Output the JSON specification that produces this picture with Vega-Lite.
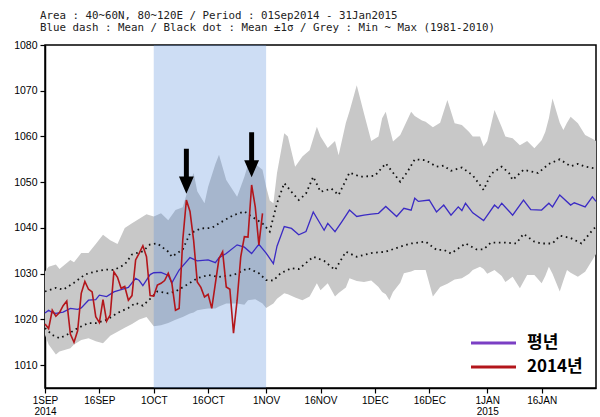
{
  "$schema": "https://vega.github.io/schema/vega-lite/v6.json",
  "width": 551,
  "height": 343,
  "autosize": "none",
  "padding": {"left": 45, "top": 45, "right": 4, "bottom": 29},
  "background": "white",
  "title": {
    "text": ["Area : 40~60N, 80~120E / Period : 01Sep2014 - 31Jan2015", "Blue dash : Mean / Black dot : Mean ±1σ / Grey : Min ~ Max (1981-2010)"],
    "anchor": "start",
    "frame": "group",
    "font": "DejaVu Sans Mono",
    "fontSize": 10.8,
    "fontWeight": "normal",
    "color": "#222222",
    "lineHeight": 12,
    "offset": 7,
    "dx": -5
  },
  "config": {
    "view": {"stroke": "black", "strokeWidth": 1.5},
    "axis": {"grid": false, "domainColor": "black", "domainWidth": 1.5, "tickColor": "black", "tickWidth": 1.2, "tickSize": 5, "labelColor": "black", "labelFont": "Liberation Sans", "labelFontSize": 10.5, "title": null}
  },
  "datasets": {
    "band": [
      {"date": "2014-09-01", "max": 1030.5, "min": 1016.6},
      {"date": "2014-09-02", "max": 1031.5, "min": 1014.5},
      {"date": "2014-09-04", "max": 1032, "min": 1012.3},
      {"date": "2014-09-05", "max": 1031, "min": 1013},
      {"date": "2014-09-08", "max": 1033, "min": 1013.7},
      {"date": "2014-09-09", "max": 1032.5, "min": 1014.5},
      {"date": "2014-09-11", "max": 1034.5, "min": 1015.5},
      {"date": "2014-09-13", "max": 1034.5, "min": 1015.9},
      {"date": "2014-09-15", "max": 1036.5, "min": 1015.2},
      {"date": "2014-09-17", "max": 1038.5, "min": 1014.8},
      {"date": "2014-09-19", "max": 1037.3, "min": 1016.4},
      {"date": "2014-09-21", "max": 1036.5, "min": 1017.3},
      {"date": "2014-09-23", "max": 1040, "min": 1018.2},
      {"date": "2014-09-25", "max": 1041, "min": 1019},
      {"date": "2014-09-27", "max": 1042, "min": 1020},
      {"date": "2014-09-29", "max": 1043, "min": 1020.5},
      {"date": "2014-10-01", "max": 1042.5, "min": 1018.5},
      {"date": "2014-10-03", "max": 1043.2, "min": 1018.7},
      {"date": "2014-10-05", "max": 1041.7, "min": 1019.2},
      {"date": "2014-10-07", "max": 1043.9, "min": 1019.9},
      {"date": "2014-10-09", "max": 1044.5, "min": 1020.5},
      {"date": "2014-10-11", "max": 1050, "min": 1021.3},
      {"date": "2014-10-12", "max": 1052, "min": 1021.5},
      {"date": "2014-10-13", "max": 1048, "min": 1022},
      {"date": "2014-10-15", "max": 1045.4, "min": 1022.3},
      {"date": "2014-10-16", "max": 1049, "min": 1022.4},
      {"date": "2014-10-18", "max": 1054, "min": 1022.4},
      {"date": "2014-10-19", "max": 1056, "min": 1022.8},
      {"date": "2014-10-21", "max": 1050.5, "min": 1023.5},
      {"date": "2014-10-24", "max": 1046.8, "min": 1023.5},
      {"date": "2014-10-26", "max": 1051.2, "min": 1023.2},
      {"date": "2014-10-27", "max": 1053.8, "min": 1024.2},
      {"date": "2014-10-29", "max": 1054, "min": 1024.4},
      {"date": "2014-10-31", "max": 1052.7, "min": 1023.5},
      {"date": "2014-11-01", "max": 1049, "min": 1022.5},
      {"date": "2014-11-02", "max": 1046, "min": 1023},
      {"date": "2014-11-03", "max": 1045.4, "min": 1023.5},
      {"date": "2014-11-04", "max": 1052, "min": 1024.5},
      {"date": "2014-11-06", "max": 1060.7, "min": 1025.7},
      {"date": "2014-11-07", "max": 1060, "min": 1025.5},
      {"date": "2014-11-09", "max": 1053.4, "min": 1024.8},
      {"date": "2014-11-11", "max": 1055.6, "min": 1024.2},
      {"date": "2014-11-13", "max": 1057, "min": 1025},
      {"date": "2014-11-15", "max": 1062.1, "min": 1027.9},
      {"date": "2014-11-16", "max": 1060, "min": 1026.4},
      {"date": "2014-11-18", "max": 1057.5, "min": 1027.9},
      {"date": "2014-11-20", "max": 1059, "min": 1025},
      {"date": "2014-11-21", "max": 1055.9, "min": 1025.8},
      {"date": "2014-11-23", "max": 1063, "min": 1027},
      {"date": "2014-11-24", "max": 1065.5, "min": 1029},
      {"date": "2014-11-26", "max": 1071.2, "min": 1028.4},
      {"date": "2014-11-28", "max": 1065, "min": 1028.2},
      {"date": "2014-11-30", "max": 1059, "min": 1028.5},
      {"date": "2014-12-02", "max": 1060, "min": 1027.1},
      {"date": "2014-12-03", "max": 1064, "min": 1026},
      {"date": "2014-12-04", "max": 1065.4, "min": 1025.5},
      {"date": "2014-12-05", "max": 1062, "min": 1024.2},
      {"date": "2014-12-06", "max": 1058.9, "min": 1026},
      {"date": "2014-12-08", "max": 1060.3, "min": 1028},
      {"date": "2014-12-09", "max": 1062, "min": 1030.1},
      {"date": "2014-12-11", "max": 1065.4, "min": 1030.5},
      {"date": "2014-12-12", "max": 1064.5, "min": 1030.8},
      {"date": "2014-12-14", "max": 1063.5, "min": 1030.8},
      {"date": "2014-12-15", "max": 1063.2, "min": 1030.8},
      {"date": "2014-12-17", "max": 1062, "min": 1025},
      {"date": "2014-12-19", "max": 1063, "min": 1027.1},
      {"date": "2014-12-21", "max": 1068, "min": 1027.8},
      {"date": "2014-12-23", "max": 1062.9, "min": 1028.7},
      {"date": "2014-12-25", "max": 1062.5, "min": 1029},
      {"date": "2014-12-27", "max": 1061, "min": 1030},
      {"date": "2014-12-28", "max": 1060, "min": 1030.8},
      {"date": "2014-12-30", "max": 1060, "min": 1031.5},
      {"date": "2014-12-31", "max": 1057.8, "min": 1031},
      {"date": "2015-01-01", "max": 1059, "min": 1030},
      {"date": "2015-01-03", "max": 1065.8, "min": 1030.8},
      {"date": "2015-01-05", "max": 1062, "min": 1029.5},
      {"date": "2015-01-06", "max": 1060, "min": 1028.2},
      {"date": "2015-01-08", "max": 1059.6, "min": 1029.3},
      {"date": "2015-01-10", "max": 1058.1, "min": 1026.8},
      {"date": "2015-01-12", "max": 1059, "min": 1029.7},
      {"date": "2015-01-14", "max": 1057.4, "min": 1029.7},
      {"date": "2015-01-16", "max": 1059.2, "min": 1027.9},
      {"date": "2015-01-17", "max": 1061, "min": 1029.5},
      {"date": "2015-01-18", "max": 1064, "min": 1031.5},
      {"date": "2015-01-19", "max": 1068.3, "min": 1030},
      {"date": "2015-01-21", "max": 1063, "min": 1026.1},
      {"date": "2015-01-22", "max": 1061.4, "min": 1028.5},
      {"date": "2015-01-23", "max": 1063, "min": 1030.8},
      {"date": "2015-01-24", "max": 1064.3, "min": 1030.2},
      {"date": "2015-01-26", "max": 1062.9, "min": 1029.3},
      {"date": "2015-01-28", "max": 1060.3, "min": 1030.4},
      {"date": "2015-01-30", "max": 1059.5, "min": 1033},
      {"date": "2015-01-31", "max": 1059, "min": 1034.3}
    ],
    "mean": [
      {"date": "2014-09-01", "value": 1021.4}, {"date": "2014-09-02", "value": 1022}, {"date": "2014-09-03", "value": 1021.5},
      {"date": "2014-09-04", "value": 1021.3}, {"date": "2014-09-06", "value": 1021.6}, {"date": "2014-09-08", "value": 1022.4},
      {"date": "2014-09-10", "value": 1022.2}, {"date": "2014-09-11", "value": 1022.5}, {"date": "2014-09-13", "value": 1024.2},
      {"date": "2014-09-15", "value": 1024.3}, {"date": "2014-09-16", "value": 1025.3}, {"date": "2014-09-18", "value": 1025},
      {"date": "2014-09-20", "value": 1026}, {"date": "2014-09-22", "value": 1026.5}, {"date": "2014-09-24", "value": 1027},
      {"date": "2014-09-26", "value": 1029}, {"date": "2014-09-27", "value": 1028.5}, {"date": "2014-09-28", "value": 1027.4},
      {"date": "2014-09-30", "value": 1029.8}, {"date": "2014-10-01", "value": 1030.2}, {"date": "2014-10-03", "value": 1030.3},
      {"date": "2014-10-05", "value": 1029.6}, {"date": "2014-10-06", "value": 1028}, {"date": "2014-10-08", "value": 1030.8},
      {"date": "2014-10-11", "value": 1033.5}, {"date": "2014-10-13", "value": 1032.8}, {"date": "2014-10-16", "value": 1033},
      {"date": "2014-10-18", "value": 1032.4}, {"date": "2014-10-19", "value": 1033.5}, {"date": "2014-10-21", "value": 1034.4},
      {"date": "2014-10-24", "value": 1036.3}, {"date": "2014-10-26", "value": 1035.8}, {"date": "2014-10-28", "value": 1034.4},
      {"date": "2014-10-30", "value": 1036.4}, {"date": "2014-11-01", "value": 1034.5}, {"date": "2014-11-03", "value": 1032.2},
      {"date": "2014-11-04", "value": 1036}, {"date": "2014-11-06", "value": 1040.3}, {"date": "2014-11-08", "value": 1039.9},
      {"date": "2014-11-10", "value": 1038.5}, {"date": "2014-11-12", "value": 1039.2}, {"date": "2014-11-14", "value": 1043.5},
      {"date": "2014-11-17", "value": 1039.5}, {"date": "2014-11-18", "value": 1041}, {"date": "2014-11-20", "value": 1039.2},
      {"date": "2014-11-22", "value": 1041.5}, {"date": "2014-11-24", "value": 1043.9}, {"date": "2014-11-26", "value": 1042.5},
      {"date": "2014-11-28", "value": 1042.8}, {"date": "2014-11-30", "value": 1043}, {"date": "2014-12-02", "value": 1043.2},
      {"date": "2014-12-04", "value": 1044.7}, {"date": "2014-12-07", "value": 1042.5}, {"date": "2014-12-09", "value": 1044.3},
      {"date": "2014-12-11", "value": 1043.9}, {"date": "2014-12-12", "value": 1046.5}, {"date": "2014-12-13", "value": 1045.8},
      {"date": "2014-12-16", "value": 1046.1}, {"date": "2014-12-18", "value": 1043.5}, {"date": "2014-12-20", "value": 1045},
      {"date": "2014-12-22", "value": 1042.8}, {"date": "2014-12-24", "value": 1044.6}, {"date": "2014-12-25", "value": 1043.8},
      {"date": "2014-12-26", "value": 1045.4}, {"date": "2014-12-28", "value": 1043.3}, {"date": "2014-12-31", "value": 1041.6},
      {"date": "2015-01-03", "value": 1045}, {"date": "2015-01-04", "value": 1044.3}, {"date": "2015-01-05", "value": 1045.4},
      {"date": "2015-01-08", "value": 1042.8}, {"date": "2015-01-11", "value": 1046.1}, {"date": "2015-01-13", "value": 1044},
      {"date": "2015-01-16", "value": 1043.9}, {"date": "2015-01-18", "value": 1045.4}, {"date": "2015-01-19", "value": 1044.6},
      {"date": "2015-01-21", "value": 1047.2}, {"date": "2015-01-24", "value": 1045}, {"date": "2015-01-25", "value": 1045.5},
      {"date": "2015-01-26", "value": 1045.2}, {"date": "2015-01-28", "value": 1044.6}, {"date": "2015-01-30", "value": 1046.8},
      {"date": "2015-01-31", "value": 1045.8}
    ],
    "up": [
      {"date": "2014-09-01", "value": 1026.1}, {"date": "2014-09-04", "value": 1026.9}, {"date": "2014-09-06", "value": 1026.5},
      {"date": "2014-09-09", "value": 1028}, {"date": "2014-09-12", "value": 1029.8}, {"date": "2014-09-15", "value": 1030.5},
      {"date": "2014-09-18", "value": 1030.9}, {"date": "2014-09-20", "value": 1030.8}, {"date": "2014-09-23", "value": 1032},
      {"date": "2014-09-25", "value": 1034.2}, {"date": "2014-09-28", "value": 1034.9}, {"date": "2014-09-30", "value": 1036.4},
      {"date": "2014-10-02", "value": 1036.6}, {"date": "2014-10-05", "value": 1034.8}, {"date": "2014-10-06", "value": 1033.7},
      {"date": "2014-10-09", "value": 1035.3}, {"date": "2014-10-11", "value": 1038.8}, {"date": "2014-10-14", "value": 1039.9},
      {"date": "2014-10-17", "value": 1040}, {"date": "2014-10-19", "value": 1041}, {"date": "2014-10-23", "value": 1042.8},
      {"date": "2014-10-26", "value": 1043.6}, {"date": "2014-10-28", "value": 1042.5}, {"date": "2014-10-31", "value": 1041},
      {"date": "2014-11-02", "value": 1039.2}, {"date": "2014-11-04", "value": 1045.4}, {"date": "2014-11-06", "value": 1049.8},
      {"date": "2014-11-08", "value": 1047.9}, {"date": "2014-11-10", "value": 1046.1}, {"date": "2014-11-12", "value": 1047.5},
      {"date": "2014-11-14", "value": 1051.2}, {"date": "2014-11-16", "value": 1047.9}, {"date": "2014-11-19", "value": 1048.6},
      {"date": "2014-11-21", "value": 1047.2}, {"date": "2014-11-24", "value": 1052.1}, {"date": "2014-11-27", "value": 1051.2},
      {"date": "2014-12-01", "value": 1051.4}, {"date": "2014-12-04", "value": 1054.1}, {"date": "2014-12-08", "value": 1050.1},
      {"date": "2014-12-10", "value": 1052.3}, {"date": "2014-12-12", "value": 1055}, {"date": "2014-12-15", "value": 1054.8},
      {"date": "2014-12-18", "value": 1053.4}, {"date": "2014-12-20", "value": 1053.6}, {"date": "2014-12-22", "value": 1052.5},
      {"date": "2014-12-25", "value": 1053.2}, {"date": "2014-12-28", "value": 1051.5}, {"date": "2014-12-31", "value": 1048.3},
      {"date": "2015-01-02", "value": 1051.8}, {"date": "2015-01-05", "value": 1053.4}, {"date": "2015-01-07", "value": 1052},
      {"date": "2015-01-08", "value": 1050.5}, {"date": "2015-01-11", "value": 1052.7}, {"date": "2015-01-14", "value": 1052.2},
      {"date": "2015-01-15", "value": 1052}, {"date": "2015-01-18", "value": 1054}, {"date": "2015-01-21", "value": 1055},
      {"date": "2015-01-24", "value": 1053.5}, {"date": "2015-01-26", "value": 1054}, {"date": "2015-01-28", "value": 1053.4},
      {"date": "2015-01-31", "value": 1053}
    ],
    "lo": [
      {"date": "2014-09-01", "value": 1018.1}, {"date": "2014-09-03", "value": 1016.6}, {"date": "2014-09-05", "value": 1015.9},
      {"date": "2014-09-07", "value": 1016.6}, {"date": "2014-09-10", "value": 1018.1}, {"date": "2014-09-13", "value": 1019.2},
      {"date": "2014-09-15", "value": 1019.2}, {"date": "2014-09-18", "value": 1019.9}, {"date": "2014-09-21", "value": 1021.4},
      {"date": "2014-09-24", "value": 1022.5}, {"date": "2014-09-26", "value": 1023.6}, {"date": "2014-09-28", "value": 1023},
      {"date": "2014-09-30", "value": 1024.5}, {"date": "2014-10-02", "value": 1026.1}, {"date": "2014-10-05", "value": 1025.7},
      {"date": "2014-10-07", "value": 1026.1}, {"date": "2014-10-10", "value": 1027.5}, {"date": "2014-10-13", "value": 1029},
      {"date": "2014-10-16", "value": 1029.7}, {"date": "2014-10-19", "value": 1029.3}, {"date": "2014-10-23", "value": 1029.7},
      {"date": "2014-10-27", "value": 1031.2}, {"date": "2014-10-30", "value": 1030.1}, {"date": "2014-11-01", "value": 1028.6},
      {"date": "2014-11-03", "value": 1028.5}, {"date": "2014-11-05", "value": 1030.1}, {"date": "2014-11-08", "value": 1031.2},
      {"date": "2014-11-10", "value": 1031}, {"date": "2014-11-14", "value": 1033.7}, {"date": "2014-11-17", "value": 1032.8},
      {"date": "2014-11-20", "value": 1030.8}, {"date": "2014-11-23", "value": 1034.8}, {"date": "2014-11-26", "value": 1033.7},
      {"date": "2014-11-30", "value": 1034.5}, {"date": "2014-12-04", "value": 1034.8}, {"date": "2014-12-08", "value": 1035.9},
      {"date": "2014-12-11", "value": 1036.6}, {"date": "2014-12-15", "value": 1037}, {"date": "2014-12-18", "value": 1035.2},
      {"date": "2014-12-20", "value": 1035.2}, {"date": "2014-12-22", "value": 1034.4}, {"date": "2014-12-26", "value": 1036.6},
      {"date": "2014-12-29", "value": 1035.3}, {"date": "2014-12-31", "value": 1035.3}, {"date": "2015-01-02", "value": 1036.8},
      {"date": "2015-01-06", "value": 1036.8}, {"date": "2015-01-09", "value": 1036.6}, {"date": "2015-01-11", "value": 1038.7},
      {"date": "2015-01-14", "value": 1037}, {"date": "2015-01-16", "value": 1036.6}, {"date": "2015-01-19", "value": 1036.6},
      {"date": "2015-01-21", "value": 1038.3}, {"date": "2015-01-24", "value": 1037.8}, {"date": "2015-01-27", "value": 1036.6},
      {"date": "2015-01-30", "value": 1039.5}, {"date": "2015-01-31", "value": 1040.3}
    ],
    "obs": [
      {"date": "2014-09-01", "value": 1019}, {"date": "2014-09-02", "value": 1018}, {"date": "2014-09-03", "value": 1022},
      {"date": "2014-09-04", "value": 1020.7}, {"date": "2014-09-05", "value": 1021.5}, {"date": "2014-09-06", "value": 1023},
      {"date": "2014-09-07", "value": 1024}, {"date": "2014-09-08", "value": 1016.8}, {"date": "2014-09-09", "value": 1015},
      {"date": "2014-09-10", "value": 1017.5}, {"date": "2014-09-11", "value": 1025.7}, {"date": "2014-09-12", "value": 1028.3},
      {"date": "2014-09-13", "value": 1026.6}, {"date": "2014-09-14", "value": 1026}, {"date": "2014-09-15", "value": 1020.6},
      {"date": "2014-09-16", "value": 1019.3}, {"date": "2014-09-17", "value": 1024.3}, {"date": "2014-09-18", "value": 1019.6},
      {"date": "2014-09-19", "value": 1021}, {"date": "2014-09-20", "value": 1030.4}, {"date": "2014-09-21", "value": 1029.2},
      {"date": "2014-09-22", "value": 1026.8}, {"date": "2014-09-23", "value": 1027.2}, {"date": "2014-09-24", "value": 1024.2},
      {"date": "2014-09-25", "value": 1025.2}, {"date": "2014-09-26", "value": 1033}, {"date": "2014-09-27", "value": 1034.5},
      {"date": "2014-09-28", "value": 1036.1}, {"date": "2014-09-29", "value": 1033.7}, {"date": "2014-09-30", "value": 1025.2},
      {"date": "2014-10-01", "value": 1025.1}, {"date": "2014-10-02", "value": 1027.5}, {"date": "2014-10-03", "value": 1027.9},
      {"date": "2014-10-04", "value": 1028.5}, {"date": "2014-10-05", "value": 1030.1}, {"date": "2014-10-06", "value": 1027.9},
      {"date": "2014-10-07", "value": 1022}, {"date": "2014-10-08", "value": 1022.4}, {"date": "2014-10-09", "value": 1037.3},
      {"date": "2014-10-10", "value": 1046.1}, {"date": "2014-10-11", "value": 1043.6}, {"date": "2014-10-12", "value": 1037.3},
      {"date": "2014-10-13", "value": 1028.2}, {"date": "2014-10-14", "value": 1027}, {"date": "2014-10-15", "value": 1024.9},
      {"date": "2014-10-16", "value": 1025.5}, {"date": "2014-10-17", "value": 1022.4}, {"date": "2014-10-18", "value": 1027.9},
      {"date": "2014-10-19", "value": 1033.3}, {"date": "2014-10-20", "value": 1034.8}, {"date": "2014-10-21", "value": 1027.1},
      {"date": "2014-10-22", "value": 1026.6}, {"date": "2014-10-23", "value": 1017}, {"date": "2014-10-24", "value": 1024.2},
      {"date": "2014-10-25", "value": 1033.7}, {"date": "2014-10-26", "value": 1038.1}, {"date": "2014-10-27", "value": 1038},
      {"date": "2014-10-28", "value": 1049.4}, {"date": "2014-10-29", "value": 1044.6}, {"date": "2014-10-30", "value": 1036.3},
      {"date": "2014-10-31", "value": 1043.2}
    ],
    "arrows": [
      {"date": "2014-10-10", "value": 1052.4},
      {"date": "2014-10-28", "value": 1056.0}
    ],
    "period": [
      {"start": "2014-10-01", "end": "2014-11-01"}
    ]
  },
  "encoding": {
    "x": {
      "field": "date",
      "type": "temporal",
      "scale": {"type": "utc", "domain": [{"year": 2014, "month": 9, "date": 1, "utc": true}, {"year": 2015, "month": 1, "date": 31, "utc": true}]},
      "axis": {
        "values": [
          {"year": 2014, "month": 9, "date": 1, "utc": true},
          {"year": 2014, "month": 9, "date": 16, "utc": true},
          {"year": 2014, "month": 10, "date": 1, "utc": true},
          {"year": 2014, "month": 10, "date": 16, "utc": true},
          {"year": 2014, "month": 11, "date": 1, "utc": true},
          {"year": 2014, "month": 11, "date": 16, "utc": true},
          {"year": 2014, "month": 12, "date": 1, "utc": true},
          {"year": 2014, "month": 12, "date": 16, "utc": true},
          {"year": 2015, "month": 1, "date": 1, "utc": true},
          {"year": 2015, "month": 1, "date": 16, "utc": true}
        ],
        "labelExpr": "[utcFormat(datum.value, '%-d') + upper(utcFormat(datum.value, '%b')), utcFormat(datum.value, '%m%d') == '0901' ? '2014' : (utcFormat(datum.value, '%m%d') == '0101' ? '2015' : '')]",
        "labelLineHeight": 11,
        "labelPadding": 2,
        "labelFontSize": 10,
        "labelOverlap": false,
        "labelFlush": false
      }
    }
  },
  "layer": [
    {
      "data": {"name": "band"},
      "mark": {"type": "area", "color": "#c8c8c8", "opacity": 1},
      "encoding": {
        "y": {
          "field": "max",
          "type": "quantitative",
          "scale": {"domain": [1005, 1080], "nice": false, "zero": false},
          "axis": {"values": [1010, 1020, 1030, 1040, 1050, 1060, 1070, 1080], "format": "d", "labelPadding": 3}
        },
        "y2": {"field": "min"}
      }
    },
    {
      "data": {"name": "period"},
      "mark": {"type": "rect", "fill": "#5b8fd9", "opacity": 0.3},
      "encoding": {
        "x": {"field": "start", "type": "temporal"},
        "x2": {"field": "end"}
      }
    },
    {
      "data": {"name": "up"},
      "mark": {"type": "line", "color": "#111111", "strokeWidth": 1.8, "strokeDash": [1.6, 3.6]},
      "encoding": {"y": {"field": "value", "type": "quantitative"}}
    },
    {
      "data": {"name": "lo"},
      "mark": {"type": "line", "color": "#111111", "strokeWidth": 1.8, "strokeDash": [1.6, 3.6]},
      "encoding": {"y": {"field": "value", "type": "quantitative"}}
    },
    {
      "data": {"name": "mean"},
      "mark": {"type": "line", "strokeWidth": 1.3, "color": "#3b2bc4"},
      "encoding": {
        "y": {"field": "value", "type": "quantitative"}
      }
    },
    {
      "data": {"name": "obs"},
      "mark": {"type": "line", "strokeWidth": 1.6},
      "encoding": {
        "y": {"field": "value", "type": "quantitative"},
        "color": {
          "datum": "2014년",
          "type": "nominal",
          "scale": {"domain": ["평년", "2014년"], "range": ["#7b3fc4", "#b3161b"]},
          "legend": {
            "title": null,
            "orient": "none",
            "legendX": 440,
            "legendY": 289.5,
            "symbolType": "M -4.5 0 L 4.5 0",
            "symbolSize": 100,
            "symbolStrokeWidth": 3,
            "labelFont": "Noto Sans CJK KR",
            "labelFontSize": 17,
            "labelFontWeight": "bold",
            "labelColor": "black",
            "labelOffset": 25,
            "rowPadding": 6,
            "padding": 0,
            "encode": {"symbols": {"update": {"fill": {"value": "transparent"}}}}
          }
        }
      }
    },
    {
      "data": {"name": "arrows"},
      "mark": {"type": "point", "shape": "M -0.11 -1 L 0.11 -1 L 0.11 0.24 L 0.33 0.24 L 0 1 L -0.33 0.24 L -0.11 0.24 Z", "filled": true, "color": "black", "opacity": 1, "size": 2025},
      "encoding": {"y": {"field": "value", "type": "quantitative"}}
    }
  ]
}
